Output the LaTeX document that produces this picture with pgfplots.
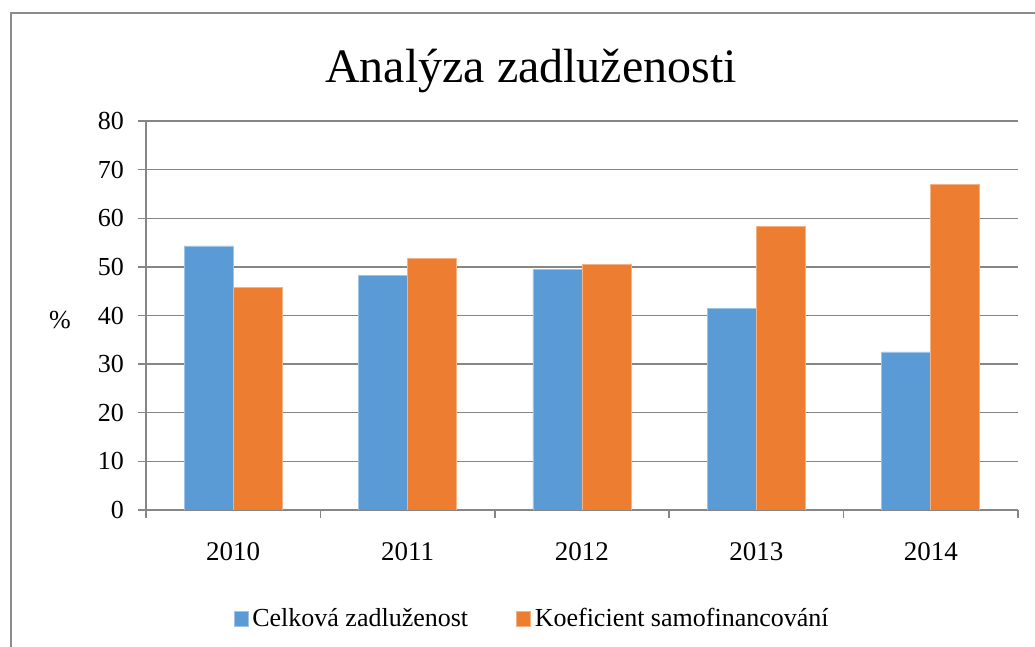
\documentclass[border=0pt]{standalone}
\usepackage{fontspec}
\setmainfont{Liberation Serif}
\usepackage{pgfplots}
\usepackage{pgfplotstable}
\pgfplotsset{compat=1.18}
\definecolor{serA}{HTML}{5B9BD5}
\definecolor{serB}{HTML}{ED7D31}
\definecolor{gridc}{HTML}{868686}
\definecolor{framec}{HTML}{8C8C8C}

% rok, celkova zadluzenost, koeficient samofinancovani (v %)
\pgfplotstableread{
idx celk samo
0 54.3 45.7
1 48.2 51.8
2 49.4 50.5
3 41.5 58.4
4 32.5 66.9
}\zadl

\begin{document}
\begin{tikzpicture}
\path[use as bounding box] (-73pt,-68.5pt) rectangle (444.5pt,255pt);
\draw[framec, line width=1.1pt] (-67.5pt,-90pt) -- (-67.5pt,248.5pt) -- (470pt,248.5pt);
\node[anchor=base, font=\fontsize{24}{28}\selectfont] at (192.5pt,213.5pt) {Analýza zadluženosti};
\begin{axis}[
  at={(0pt,0pt)}, anchor=south west,
  scale only axis, width=436pt, height=194.5pt,
  xmin=-0.5, xmax=4.5, ymin=0, ymax=80,
  ytick={0,10,...,80},
  xtick={0,...,4}, xticklabels={2010,2011,2012,2013,2014},
  minor xtick={-0.5,0.5,1.5,2.5,3.5,4.5},
  axis lines=left, axis line style={gridc, line width=0.75pt, -},
  ymajorgrids, grid style={gridc, line width=0.75pt},
  tick align=outside, major tick length=4pt, minor tick length=4pt,
  tick style={gridc, line width=0.75pt},
  major x tick style={draw=none},
  ybar=0pt, bar width=24.5pt,
  tick label style={font=\fontsize{13}{15}\selectfont},
  /pgf/number format/assume math mode=true,
  yticklabel style={xshift=-3.5pt},
  xticklabel style={yshift=-8.5pt, font=\fontsize{13.5}{15}\selectfont},
  ylabel={\%},
  every axis y label/.style={at={(axis description cs:-0.0986,0.488)}, anchor=center,
    font=\fontsize{13}{15}\selectfont},
  legend columns=2,
  legend style={at={(axis description cs:0.444,-0.28)}, anchor=center, draw=none,
    font=\fontsize{13}{15}\selectfont,
    /tikz/every even column/.append style={column sep=22pt}},
  legend image code/.code={\fill[#1] (0pt,-3.6pt) rectangle (7pt,3.6pt);},
]
\addplot[fill=serA, draw=serA!60!white, line width=0.3pt] table[x=idx, y=celk] {\zadl};
\addplot[fill=serB, draw=serB!60!white, line width=0.3pt] table[x=idx, y=samo] {\zadl};
\legend{Celková zadluženost, Koeficient samofinancování}
\end{axis}
\end{tikzpicture}
\end{document}
